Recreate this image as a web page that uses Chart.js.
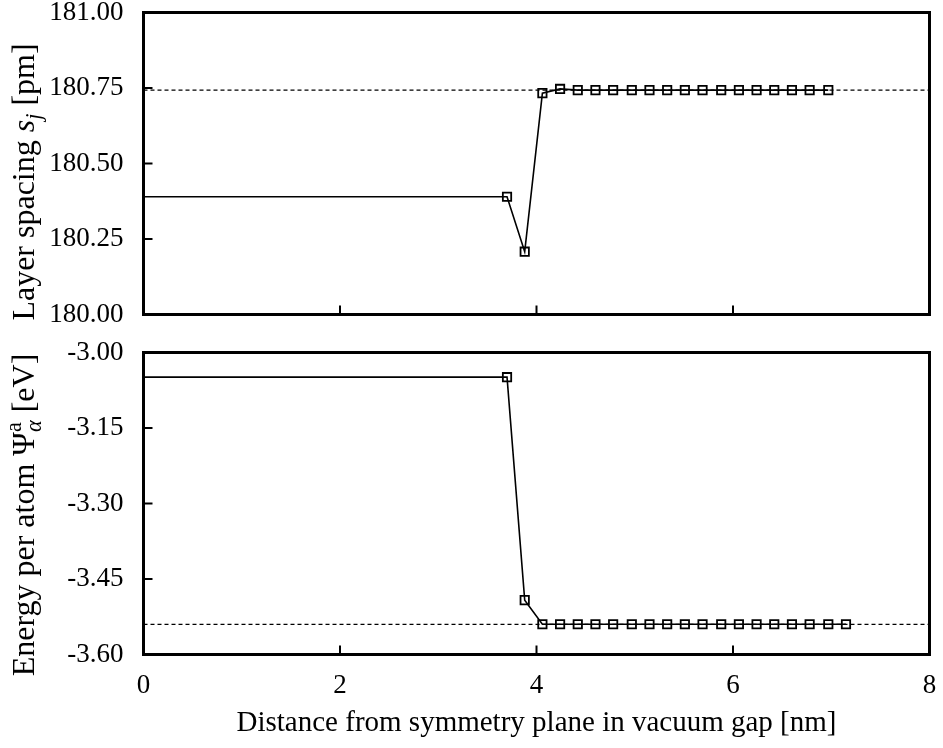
<!DOCTYPE html>
<html>
<head>
<meta charset="utf-8">
<script src="https://cdn.jsdelivr.net/npm/chart.js@4.4.1/dist/chart.umd.min.js"></script>
<style>
  html, body { margin: 0; padding: 0; background: #fff; }
  #wrap { position: relative; width: 943px; height: 748px; }
  .panel { position: absolute; left: 0; width: 943px; }
  #top { top: 0; height: 340px; }
  #bottom { top: 330px; height: 418px; }
</style>
</head>
<body>
<div id="wrap">
  <div class="panel" id="top"><canvas id="spacing"></canvas></div>
  <div class="panel" id="bottom"><canvas id="energy"></canvas></div>
</div>
<script>
// distance from symmetry plane [nm]
const xTop = [0, 3.70, 3.88, 4.06, 4.24, 4.42, 4.60, 4.78, 4.97, 5.15, 5.33,
              5.51, 5.69, 5.88, 6.06, 6.24, 6.42, 6.60, 6.78, 6.97];
// layer spacing s_j [pm]
const spacing = [180.39, 180.39, 180.208, 180.733, 180.747, 180.743, 180.743,
                 180.743, 180.743, 180.743, 180.743, 180.743, 180.743, 180.743,
                 180.743, 180.743, 180.743, 180.743, 180.743, 180.743];
const spacingRef = 180.743;

const xBottom = [0, 3.70, 3.88, 4.06, 4.24, 4.42, 4.60, 4.78, 4.97, 5.15, 5.33,
                 5.51, 5.69, 5.88, 6.06, 6.24, 6.42, 6.60, 6.78, 6.97, 7.15];
// energy per atom [eV]
const energy = [-3.049, -3.049, -3.492, -3.540, -3.540, -3.540, -3.540, -3.540,
                -3.540, -3.540, -3.540, -3.540, -3.540, -3.540, -3.540, -3.540,
                -3.540, -3.540, -3.540, -3.540, -3.540];
const energyRef = -3.540;

const xRange = [0, 8];
const FONT = '"Liberation Serif", "DejaVu Serif", serif';

function pts(xs, ys) {
    return xs.map(function (x, i) { return {x: x, y: ys[i]}; });
}

// frame + inward ticks, like the gnuplot look
const framePlugin = {
    id: 'frame',
    afterDraw: function (chart) {
        const ctx = chart.ctx;
        const a = chart.chartArea;
        const x = chart.scales.x, y = chart.scales.y;
        ctx.save();
        ctx.strokeStyle = '#000';
        ctx.lineWidth = 2;
        y.ticks.forEach(function (t) {
            const py = y.getPixelForValue(t.value);
            ctx.beginPath();
            ctx.moveTo(a.left, py);
            ctx.lineTo(a.left + 9, py);
            ctx.stroke();
        });
        x.ticks.forEach(function (t) {
            const px = x.getPixelForValue(t.value);
            ctx.beginPath();
            ctx.moveTo(px, a.bottom);
            ctx.lineTo(px, a.bottom - 9);
            ctx.stroke();
        });
        ctx.lineWidth = 3;
        ctx.strokeRect(a.left, a.top, a.right - a.left, a.bottom - a.top);
        ctx.restore();
    }
};

// rotated y title with sub/superscripts
function richTitle(parts, cx, cy, size) {
    return {
        id: 'richTitle',
        afterDraw: function (chart) {
            const ctx = chart.ctx;
            ctx.save();
            ctx.fillStyle = '#000';
            ctx.textBaseline = 'alphabetic';
            function font(p) {
                const s = (p.sub || p.sup) ? size * 0.7 : size;
                return (p.italic ? 'italic ' : '') + s + 'px ' + FONT;
            }
            let total = 0, w = 0;
            parts.forEach(function (p) {
                ctx.font = font(p);
                p.w = ctx.measureText(p.t).width;
                if (p.same) { total += Math.max(0, p.w - w); } else { total += p.w; w = p.w; }
            });
            ctx.translate(cx, cy);
            ctx.rotate(-Math.PI / 2);
            let pos = -total / 2, last = 0, lastW = 0;
            parts.forEach(function (p) {
                ctx.font = font(p);
                let px = pos;
                if (p.same) { px = last; pos = last + Math.max(lastW, p.w); }
                else { last = pos; lastW = p.w; pos += p.w; }
                const dy = p.sub ? size * 0.22 : (p.sup ? -size * 0.38 : 0);
                ctx.fillText(p.t, px, size * 0.33 + dy);
            });
            ctx.restore();
        }
    };
}

function panel(canvas, opts) {
    return new Chart(canvas, {
        type: 'scatter',
        data: {
            datasets: [{
                data: pts(opts.xs, opts.ys),
                showLine: true,
                borderColor: '#000',
                borderWidth: 1.6,
                pointStyle: 'rect',
                pointRadius: function (c) { return c.dataIndex === 0 ? 0 : 5.9; },
                pointBorderWidth: 1.8,
                pointBorderColor: '#000',
                pointBackgroundColor: 'rgba(0,0,0,0)'
            }, {
                data: [{x: xRange[0], y: opts.ref}, {x: xRange[1], y: opts.ref}],
                showLine: true,
                borderColor: '#000',
                borderWidth: 1.2,
                borderDash: [4, 3],
                pointRadius: 0
            }]
        },
        options: {
            responsive: true,
            maintainAspectRatio: false,
            animation: false,
            layout: {padding: {left: 0, right: 13.5, top: opts.padTop, bottom: 0}},
            plugins: {legend: {display: false}, tooltip: {enabled: false}},
            scales: {
                x: {
                    type: 'linear',
                    min: xRange[0],
                    max: xRange[1],
                    grid: {display: false},
                    border: {display: false},
                    ticks: {
                        display: opts.xLabels,
                        stepSize: 2,
                        padding: 7,
                        color: '#000',
                        font: {family: FONT, size: 27}
                    },
                    title: {
                        display: opts.xLabels,
                        text: 'Distance from symmetry plane in vacuum gap [nm]',
                        color: '#000',
                        font: {family: FONT, size: 29},
                        padding: {top: 0, bottom: 7}
                    },
                    afterFit: function (s) {
                        s.height = opts.xHeight;
                        s.paddingLeft = 0;
                        s.paddingRight = 0;
                    }
                },
                y: {
                    min: opts.min,
                    max: opts.max,
                    grid: {display: false},
                    border: {display: false},
                    ticks: {
                        stepSize: opts.step,
                        padding: 12,
                        color: '#000',
                        font: {family: FONT, size: 27},
                        callback: function (v) { return v.toFixed(2); }
                    },
                    afterFit: function (s) {
                        s.width = 143.5;
                        s.paddingTop = 0;
                        s.paddingBottom = 0;
                    }
                }
            }
        },
        plugins: [framePlugin, richTitle(opts.title, 23, opts.titleY, 32)]
    });
}

panel(document.getElementById('spacing'), {
    xs: xTop, ys: spacing, ref: spacingRef,
    min: 180, max: 181, step: 0.25,
    padTop: 12.5, xHeight: 25.5, xLabels: false,
    titleY: 182,
    title: [
        {t: 'Layer spacing '},
        {t: 's', italic: true},
        {t: 'j', italic: true, sub: true},
        {t: ' [pm]'}
    ]
});

panel(document.getElementById('energy'), {
    xs: xBottom, ys: energy, ref: energyRef,
    min: -3.6, max: -3.0, step: 0.15,
    padTop: 22.5, xHeight: 93.5, xLabels: true,
    titleY: 185,
    title: [
        {t: 'Energy per atom '},
        {t: 'Ψ'},
        {t: 'a', sup: true},
        {t: 'α', italic: true, sub: true, same: true},
        {t: ' [eV]'}
    ]
});
</script>
</body>
</html>
